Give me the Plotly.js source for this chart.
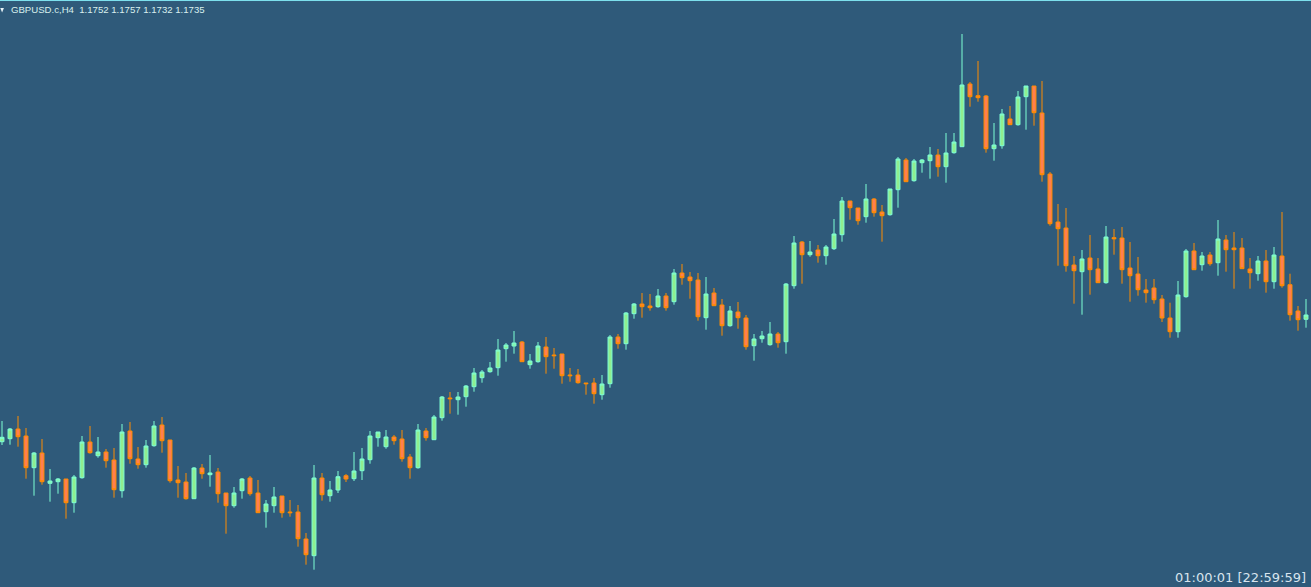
<!DOCTYPE html>
<html>
<head>
<meta charset="utf-8">
<script src="https://cdn.plot.ly/plotly-3.0.1.min.js"></script>
<style>
  html, body { margin: 0; padding: 0; background: #2f5a7a; }
  #chart { width: 1311px; height: 587px; }
</style>
</head>
<body>
<div id="chart"></div>
<script>
// GBPUSD.c, H4 — 164 bars (index 0 = oldest)
const symbolTitle = "GBPUSD.c,H4";
const headerValues = ["1.1752", "1.1757", "1.1732", "1.1735"];
const timerText = "01:00:01 [22:59:59]";

const open = [
1.16103,1.16133,1.16230,1.16160,1.15843,1.15990,1.15687,1.15703,1.15730,1.15493,
1.15743,1.16100,1.15963,1.16000,1.15920,1.15613,1.16210,1.15930,1.15873,1.16063,
1.16270,1.16120,1.15720,1.15700,1.15533,1.15840,1.15773,1.15800,1.15590,1.15463,
1.15613,1.15740,1.15590,1.15403,1.15463,1.15560,1.15400,1.15400,1.15130,1.14963,
1.15740,1.15563,1.15620,1.15763,1.15733,1.15813,1.15923,1.16143,1.16053,1.16150,
1.16130,1.15950,1.15843,1.16210,1.16123,1.16343,1.16540,1.16523,1.16553,1.16653,
1.16743,1.16803,1.16843,1.17033,1.17060,1.17100,1.16873,1.16903,1.17050,1.16970,
1.16980,1.16770,1.16770,1.16690,1.16690,1.16573,1.16683,1.17150,1.17083,1.17383,
1.17480,1.17460,1.17453,1.17560,1.17503,1.17790,1.17750,1.17720,1.17343,1.17590,
1.17470,1.17263,1.17400,1.17340,1.17063,1.17133,1.17073,1.17180,1.17103,1.17663,
1.18100,1.17973,1.18020,1.17963,1.18033,1.18173,1.18510,1.18440,1.18353,1.18530,
1.18400,1.18373,1.18623,1.18920,1.18713,1.18893,1.18913,1.18970,1.18853,1.18993,
1.19053,1.19680,1.19563,1.19560,1.19033,1.19063,1.19330,1.19273,1.19553,1.19660,
1.19390,1.18780,1.18300,1.18240,1.17870,1.17803,1.17940,1.17830,1.17693,1.18143,
1.18140,1.17840,1.17780,1.17620,1.17640,1.17530,1.17340,1.17203,1.17553,1.18010,
1.17873,1.17970,1.17893,1.18120,1.18040,1.18040,1.17830,1.17783,1.17910,1.17703,
1.17960,1.17673,1.17410,1.17327
];
const high = [
1.16310,1.16240,1.16360,1.16240,1.16000,1.16130,1.15830,1.15740,1.15730,1.15770,
1.16160,1.16260,1.16150,1.16030,1.16040,1.16280,1.16300,1.16050,1.16120,1.16310,
1.16350,1.16120,1.15860,1.15790,1.15850,1.15880,1.15970,1.15840,1.15590,1.15650,
1.15740,1.15760,1.15720,1.15520,1.15650,1.15560,1.15520,1.15470,1.15190,1.15870,
1.15790,1.15710,1.15810,1.15780,1.16000,1.16040,1.16210,1.16200,1.16220,1.16170,
1.16220,1.15980,1.16280,1.16240,1.16370,1.16560,1.16600,1.16600,1.16670,1.16840,
1.16820,1.16900,1.17130,1.17090,1.17210,1.17110,1.16980,1.17100,1.17150,1.17040,
1.16980,1.16840,1.16830,1.16690,1.16740,1.16770,1.17170,1.17180,1.17400,1.17490,
1.17590,1.17580,1.17630,1.17590,1.17830,1.17880,1.17800,1.17790,1.17750,1.17640,
1.17530,1.17460,1.17500,1.17370,1.17180,1.17210,1.17300,1.17200,1.17690,1.18160,
1.18110,1.18110,1.18070,1.18070,1.18330,1.18550,1.18510,1.18440,1.18680,1.18540,
1.18470,1.18630,1.18950,1.18940,1.18930,1.18930,1.19050,1.19030,1.19190,1.19190,
1.20180,1.19700,1.19910,1.19570,1.19290,1.19430,1.19460,1.19610,1.19660,1.19660,
1.19710,1.18800,1.18480,1.18440,1.17960,1.18020,1.18170,1.17940,1.18260,1.18230,
1.18250,1.18100,1.17950,1.17730,1.17730,1.17570,1.17493,1.17710,1.18030,1.18090,
1.18000,1.18000,1.18320,1.18170,1.18200,1.18140,1.17940,1.17960,1.18020,1.18050,
1.18400,1.17783,1.17460,1.17530
];
const low = [
1.16070,1.16073,1.16053,1.15733,1.15563,1.15673,1.15503,1.15583,1.15333,1.15393,
1.15733,1.15983,1.15943,1.15843,1.15543,1.15543,1.15883,1.15833,1.15843,1.16053,
1.15993,1.15693,1.15543,1.15523,1.15533,1.15733,1.15653,1.15493,1.15183,1.15443,
1.15533,1.15563,1.15393,1.15243,1.15393,1.15343,1.15353,1.15053,1.14873,1.14823,
1.15513,1.15503,1.15590,1.15700,1.15710,1.15720,1.15883,1.16053,1.16033,1.16073,
1.15903,1.15733,1.15833,1.16113,1.16123,1.16313,1.16383,1.16373,1.16453,1.16603,
1.16693,1.16793,1.16763,1.16903,1.16983,1.16903,1.16833,1.16893,1.16783,1.16833,
1.16683,1.16703,1.16683,1.16573,1.16483,1.16523,1.16643,1.17033,1.17023,1.17333,
1.17343,1.17413,1.17443,1.17413,1.17473,1.17673,1.17533,1.17313,1.17223,1.17463,
1.17163,1.17253,1.17233,1.17023,1.16913,1.17093,1.17063,1.17043,1.16983,1.17633,
1.17683,1.17953,1.17893,1.17873,1.18020,1.18103,1.18323,1.18273,1.18293,1.18353,
1.18103,1.18363,1.18443,1.18703,1.18703,1.18793,1.18733,1.18753,1.18693,1.18983,
1.19053,1.19453,1.19503,1.18993,1.18913,1.19033,1.19273,1.19263,1.19223,1.19263,
1.18703,1.18263,1.17863,1.17803,1.17483,1.17373,1.17573,1.17693,1.17683,1.17973,
1.17683,1.17503,1.17563,1.17493,1.17483,1.17300,1.17143,1.17143,1.17543,1.17823,
1.17813,1.17863,1.17763,1.17803,1.17633,1.17833,1.17633,1.17713,1.17593,1.17633,
1.17643,1.17313,1.17213,1.17243
];
const close = [
1.16147,1.16230,1.16153,1.15843,1.15990,1.15703,1.15710,1.15730,1.15493,1.15750,
1.16100,1.15993,1.16000,1.15913,1.15623,1.16200,1.15933,1.15873,1.16060,1.16260,
1.16113,1.15713,1.15693,1.15533,1.15840,1.15783,1.15790,1.15583,1.15463,1.15590,
1.15730,1.15583,1.15393,1.15480,1.15550,1.15393,1.15393,1.15133,1.14973,1.15740,
1.15573,1.15620,1.15753,1.15730,1.15810,1.15930,1.16160,1.16200,1.16150,1.16113,
1.15933,1.15843,1.16220,1.16143,1.16350,1.16550,1.16533,1.16550,1.16660,1.16790,
1.16800,1.16840,1.17020,1.17070,1.17090,1.16903,1.16910,1.17060,1.16953,1.16963,
1.16763,1.16763,1.16693,1.16683,1.16583,1.16680,1.17150,1.17083,1.17390,1.17480,
1.17453,1.17443,1.17560,1.17443,1.17790,1.17743,1.17713,1.17353,1.17580,1.17463,
1.17263,1.17410,1.17343,1.17053,1.17130,1.17160,1.17180,1.17093,1.17680,1.18090,
1.17973,1.18000,1.17963,1.18050,1.18180,1.18510,1.18443,1.18313,1.18530,1.18393,
1.18363,1.18630,1.18930,1.18703,1.18910,1.18920,1.18970,1.18853,1.18990,1.19100,
1.19670,1.19553,1.19543,1.19033,1.19070,1.19380,1.19273,1.19550,1.19660,1.19393,
1.18773,1.18283,1.18233,1.17863,1.17813,1.17930,1.17823,1.17693,1.18150,1.18133,
1.17823,1.17763,1.17623,1.17593,1.17523,1.17340,1.17203,1.17570,1.18010,1.17823,
1.17960,1.17883,1.18130,1.18023,1.18023,1.17833,1.17793,1.17910,1.17703,1.17970,
1.17663,1.17373,1.17323,1.17370
];
const barIndex = open.map((_, i) => i);

const bg = "#2f5a7a";

const trace = {
  type: "candlestick",
  x: barIndex,
  open: open, high: high, low: low, close: close,
  increasing: { line: { color: "#7fffd4", width: 1 }, fillcolor: "#90ee90" },
  decreasing: { line: { color: "#ff8c00", width: 1 }, fillcolor: "#ff7f50" },
  whiskerwidth: 0,
  hoverinfo: "none",
  showlegend: false
};

const layout = {
  width: 1311, height: 587,
  margin: { l: 0, r: 0, t: 0, b: 0, pad: 0 },
  paper_bgcolor: bg, plot_bgcolor: bg,
  showlegend: false,
  xaxis: { range: [-0.25, 163.625], visible: false, fixedrange: true,
           rangeslider: { visible: false } },
  yaxis: { range: [1.1465, 1.2052], visible: false, fixedrange: true },
  shapes: [
    { type: "line", xref: "paper", yref: "paper", x0: 0, x1: 1, y0: 0.9991, y1: 0.9991,
      line: { color: "#7fe3ef", width: 1 } },
    { type: "path", xref: "paper", yref: "paper",
      path: "M 0.0002 0.9864 L 0.0030 0.9864 L 0.0016 0.9787 Z",
      fillcolor: "#e8f4f8", line: { width: 0 } }
  ],
  annotations: [
    { xref: "paper", yref: "paper", x: 0.0066, y: 0.996, xanchor: "left", yanchor: "top",
      showarrow: false, align: "left",
      text: symbolTitle + "&nbsp;&nbsp;" + headerValues.join(" "),
      font: { family: "Liberation Sans, Arial, sans-serif", size: 9.6, color: "#d8f0ee" } },
    { xref: "paper", yref: "paper", x: 0.9975, y: 0.0, xanchor: "right", yanchor: "bottom",
      showarrow: false, align: "right",
      text: timerText,
      font: { family: "DejaVu Sans", size: 13, color: "#d8e4ee" } }
  ]
};

Plotly.newPlot("chart", [trace], layout, { staticPlot: true, displayModeBar: false });
</script>
</body>
</html>
